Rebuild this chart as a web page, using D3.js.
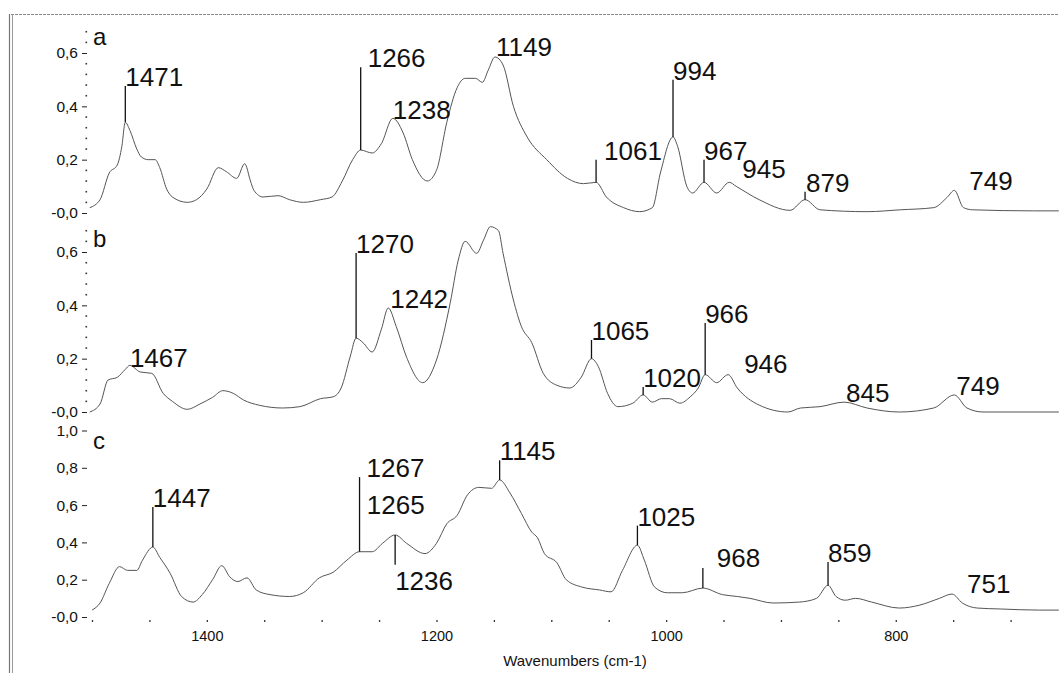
<!DOCTYPE html>
<html>
<head>
<meta charset="utf-8">
<script src="https://cdn.jsdelivr.net/npm/d3@7"></script>
<style>
  html, body { margin: 0; padding: 0; background: #fff; }
  svg { display: block; font-family: "Liberation Sans", Arial, sans-serif; }
</style>
</head>
<body>
<svg id="chart" width="1059" height="673"></svg>
<script>
// ---- Spectrum a ----
const wnA  = [1502,1493,1485,1478,1474,1471,1467,1461,1457,1451,1445,1441,1435,1430,1417,1409,1400,1390,1383,1374,1367,1362,1359,1351,1338,1328,1316,1301,1291,1282,1273,1266,1256,1248,1238,1229,1221,1208,1200,1191,1182,1175,1166,1160,1155,1149,1142,1133,1121,1104,1086,1072,1061,1052,1037,1023,1012,1005,994,990,982,977,967,956,945,939,919,892,879,866,825,796,767,755,749,741,733,680,658];
const absA = [0.02,0.05,0.15,0.18,0.25,0.34,0.31,0.24,0.21,0.20,0.20,0.17,0.09,0.06,0.04,0.05,0.09,0.17,0.155,0.13,0.185,0.12,0.085,0.06,0.065,0.05,0.04,0.05,0.06,0.12,0.20,0.236,0.225,0.26,0.355,0.30,0.20,0.12,0.16,0.34,0.47,0.505,0.505,0.49,0.535,0.585,0.555,0.40,0.285,0.20,0.13,0.11,0.115,0.06,0.02,0.005,0.02,0.15,0.285,0.25,0.10,0.075,0.115,0.075,0.115,0.10,0.05,0.01,0.05,0.012,0.005,0.012,0.02,0.06,0.085,0.02,0.012,0.008,0.008];

// ---- Spectrum b ----
const wnB  = [1502,1493,1486,1478,1471,1467,1458,1448,1438,1430,1417,1406,1395,1386,1377,1368,1354,1334,1319,1301,1290,1283,1275,1270,1264,1256,1248,1242,1235,1226,1212,1200,1188,1181,1175,1165,1159,1153,1146,1142,1133,1126,1117,1107,1095,1084,1074,1065,1059,1051,1042,1029,1020,1012,1004,997,988,979,972,966,956,946,938,919,894,883,866,845,825,797,767,749,738,724,658];
const absB = [0.0,0.03,0.12,0.13,0.16,0.175,0.15,0.145,0.07,0.04,0.01,0.03,0.055,0.08,0.07,0.045,0.025,0.015,0.02,0.05,0.057,0.09,0.21,0.277,0.26,0.225,0.31,0.39,0.32,0.205,0.11,0.195,0.41,0.57,0.64,0.595,0.645,0.695,0.68,0.595,0.42,0.32,0.26,0.145,0.10,0.09,0.13,0.20,0.17,0.07,0.02,0.033,0.064,0.037,0.05,0.05,0.033,0.057,0.09,0.14,0.11,0.14,0.09,0.026,0.0,0.015,0.02,0.037,0.015,0.0,0.015,0.064,0.015,0.0,0.0];

// ---- Spectrum c ----
const wnC  = [1500,1493,1485,1476,1469,1461,1456,1447,1441,1432,1422,1412,1404,1395,1387,1380,1373,1365,1357,1345,1328,1316,1302,1290,1278,1267,1256,1247,1236,1226,1210,1200,1191,1182,1173,1163,1152,1145,1136,1126,1117,1112,1106,1095,1087,1073,1058,1048,1038,1025,1019,1010,999,986,968,951,938,927,907,884,869,859,852,844,835,821,797,779,762,751,742,729,709,675,658];
const absC = [0.037,0.075,0.18,0.27,0.25,0.25,0.305,0.375,0.32,0.235,0.11,0.08,0.12,0.20,0.275,0.215,0.19,0.21,0.145,0.12,0.11,0.13,0.21,0.24,0.305,0.35,0.35,0.395,0.44,0.395,0.34,0.395,0.50,0.545,0.655,0.695,0.69,0.735,0.665,0.555,0.455,0.425,0.34,0.29,0.20,0.16,0.145,0.135,0.25,0.385,0.305,0.16,0.13,0.13,0.155,0.12,0.11,0.10,0.075,0.08,0.10,0.17,0.11,0.09,0.10,0.08,0.048,0.064,0.10,0.123,0.075,0.048,0.043,0.037,0.037];

// ---- Peak annotations: wavenumber, marker end (absorbance, null = no marker), label level ----
const peaksA     = [1471, 1266, 1238, 1149, 1061, 994, 967, 945, 879, 749];
const markerEndA = [0.476, 0.547, null, null, 0.20, 0.50, 0.20, null, 0.08, null];
const labelLvlA  = [0.476, 0.547, 0.353, 0.59, 0.20, 0.50, 0.20, 0.13, 0.08, 0.085];

const peaksB     = [1467, 1270, 1242, 1065, 1020, 966, 946, 845, 749];
const markerEndB = [null, 0.596, null, 0.27, 0.094, 0.334, null, null, null];
const labelLvlB  = [0.17, 0.596, 0.39, 0.27, 0.094, 0.334, 0.146, 0.037, 0.064];

const peaksC     = [1447, 1267, 1265, 1236, 1145, 1025, 968, 859, 751];
const markerEndC = [0.59, 0.75, null, 0.28, 0.84, 0.49, 0.263, 0.295, null];
const labelLvlC  = [0.59, 0.75, 0.552, 0.145, 0.84, 0.49, 0.268, 0.295, 0.129];

// horizontal nudge of each peak label (px)
const labelShiftA = [0, 7, 0, 1, 8, 0, 0, 13, 1, 15];
const labelShiftB = [0, 0, 2, 0, 0, 0, 16, 2, 2];
const labelShiftC = [0, 7, 5, 0, 0, 0, 14, 0, 15];

// ---- Axis ticks ----
const yTicksAB = [0, 0.2, 0.4, 0.6];
const yTicksC  = [0, 0.2, 0.4, 0.6, 0.8, 1.0];
const xTicks   = d3.range(1500, 699, -50);
const xLabels  = [1400, 1200, 1000, 800];
const panelNames = ["a", "b", "c"];

const svg = d3.select("#chart");
const FONT = '"Liberation Sans", Arial, sans-serif';

// window frame
svg.append("line").attr("x1", 11).attr("x2", 1059).attr("y1", 14.5).attr("y2", 14.5)
  .attr("stroke", "#8a8a8a").attr("stroke-width", 1.2).attr("stroke-dasharray", "3,1");
svg.append("line").attr("x1", 9.5).attr("x2", 9.5).attr("y1", 14).attr("y2", 673)
  .attr("stroke", "#777").attr("stroke-width", 1.2);
svg.append("line").attr("x1", 12.5).attr("x2", 12.5).attr("y1", 14).attr("y2", 673)
  .attr("stroke", "#999").attr("stroke-width", 1);

const x = d3.scaleLinear().domain([1500, 700]).range([92, 1010.6]);
const AXIS_X = 87;

const panels = [
  { name: panelNames[0], wn: wnA, ab: absA, peaks: peaksA, ends: markerEndA, lvls: labelLvlA, shifts: labelShiftA,
    y: d3.scaleLinear().domain([0, 0.6]).range([213, 53]), ticks: yTicksAB, minorTop: 0.68, letterY: 45 },
  { name: panelNames[1], wn: wnB, ab: absB, peaks: peaksB, ends: markerEndB, lvls: labelLvlB, shifts: labelShiftB,
    y: d3.scaleLinear().domain([0, 0.6]).range([412, 252]), ticks: yTicksAB, minorTop: 0.68, letterY: 247 },
  { name: panelNames[2], wn: wnC, ab: absC, peaks: peaksC, ends: markerEndC, lvls: labelLvlC, shifts: labelShiftC,
    y: d3.scaleLinear().domain([0, 1.0]).range([617, 430.5]), ticks: yTicksC, minorTop: null, letterY: 449 }
];

const fmt = v => v === 0 ? "-0,0" : d3.format(".1f")(v).replace(".", ",");

function valueAt(wns, abs, w) {
  for (let i = 0; i < wns.length - 1; i++) {
    if (w <= wns[i] && w >= wns[i + 1]) {
      const t = (wns[i] - w) / (wns[i] - wns[i + 1]);
      return abs[i] + t * (abs[i + 1] - abs[i]);
    }
  }
  return abs[abs.length - 1];
}

panels.forEach(p => {
  const g = svg.append("g");

  // y axis
  const ax = g.append("g").attr("transform", `translate(${AXIS_X},0)`)
    .call(d3.axisLeft(p.y).tickValues(p.ticks).tickSize(5).tickPadding(4).tickFormat(fmt));
  ax.select(".domain").remove();
  ax.selectAll(".tick line").attr("stroke", "#222").attr("stroke-width", 1);
  ax.selectAll(".tick text").attr("font-family", FONT).attr("font-size", 15.5).attr("fill", "#111");

  // dotted minor ticks
  if (p.minorTop !== null) {
    const minors = d3.range(0, p.minorTop + 1e-6, 0.04)
      .filter(v => !p.ticks.some(t => Math.abs(t - v) < 1e-6));
    g.selectAll(".minor").data(minors).join("rect")
      .attr("x", AXIS_X - 1.5).attr("y", d => p.y(d) - 0.75)
      .attr("width", 1.6).attr("height", 1.6).attr("fill", "#333");
  }

  // panel letter
  g.append("text").attr("x", 93).attr("y", p.letterY)
    .attr("font-family", FONT).attr("font-size", 24).attr("fill", "#111").text(p.name);

  // spectrum
  const pts = p.wn.map((w, i) => [w, p.ab[i]]);
  const line = d3.line().x(d => x(d[0])).y(d => p.y(d[1])).curve(d3.curveMonotoneX);
  g.append("path").attr("d", line(pts)).attr("fill", "none")
    .attr("stroke", "#555").attr("stroke-width", 1);

  // peak markers and labels
  p.peaks.forEach((w, i) => {
    const px = x(w);
    if (p.ends[i] !== null) {
      const v0 = valueAt(p.wn, p.ab, w);
      g.append("line").attr("x1", px).attr("x2", px)
        .attr("y1", p.y(v0)).attr("y2", p.y(p.ends[i]))
        .attr("stroke", "#111").attr("stroke-width", 1.3);
    }
    g.append("text").attr("x", px + p.shifts[i]).attr("y", p.y(p.lvls[i]))
      .attr("font-family", FONT).attr("font-size", 26).attr("fill", "#111").text(String(w));
  });
});

// x axis
const xa = svg.append("g").attr("transform", "translate(0,620)")
  .call(d3.axisBottom(x).tickValues(xTicks).tickSize(2).tickPadding(9)
    .tickFormat(d => xLabels.includes(d) ? String(d) : ""));
xa.select(".domain").remove();
xa.selectAll(".tick line").attr("stroke", "#333").attr("stroke-width", 1.3);
xa.selectAll(".tick text").attr("font-family", FONT).attr("font-size", 14.5).attr("fill", "#111");

svg.append("text").attr("x", 575).attr("y", 666).attr("text-anchor", "middle")
  .attr("font-family", FONT).attr("font-size", 15).attr("fill", "#111")
  .text("Wavenumbers (cm-1)");
</script>
</body>
</html>
